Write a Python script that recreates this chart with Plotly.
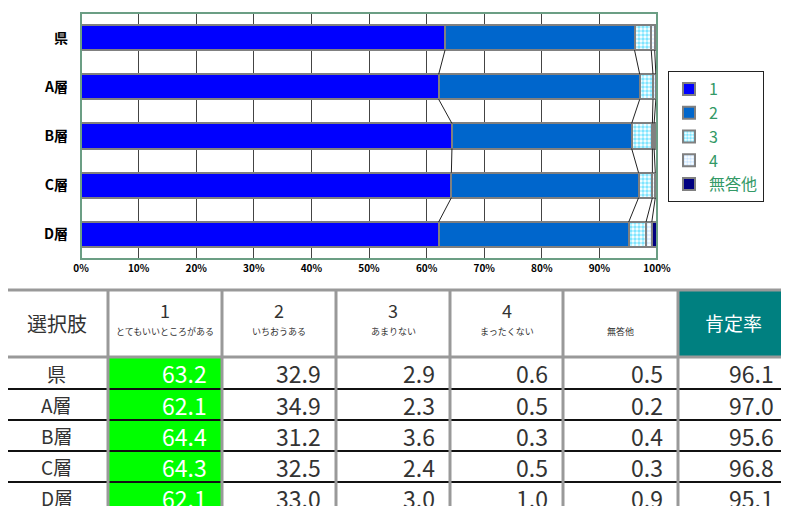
import plotly.graph_objects as go

OFF = 8  # page body margin
W, H = 789 - OFF, 506 - OFF

categories = ["県", "A層", "B層", "C層", "D層"]
series_names = ["1", "2", "3", "4", "無答他"]
s1 = [63.2, 62.1, 64.4, 64.3, 62.1]
s2 = [32.9, 34.9, 31.2, 32.5, 33.0]
s3 = [2.9, 2.3, 3.6, 2.4, 3.0]
s4 = [0.6, 0.5, 0.3, 0.5, 1.0]
s5 = [0.5, 0.2, 0.4, 0.3, 0.9]
positive_rate = [96.1, 97.0, 95.6, 96.8, 95.1]
x_ticks = [0, 10, 20, 30, 40, 50, 60, 70, 80, 90, 100]
x_ticktext = [f"{v}%" for v in x_ticks]

header_nums = ["1", "2", "3", "4", ""]
header_subs = ["とてもいいところがある", "いちおうある", "あまりない", "まったくない", "無答他"]

series = [s1, s2, s3, s4, s5]
colors = ["#0000FF", "#0066CC", "#00CCFF", "#99CCFF", "#000080"]
patterns = [None, None, ".", ".", None]

def px(x):
    return (x - OFF) / W

def py(y):
    return 1 - (y - OFF) / H

fig = go.Figure()
ypos = list(range(len(categories)))
BW = 0.51
for name, vals, col, pat in zip(series_names, series, colors, patterns):
    marker = dict(color=col if pat is None else "white",
                  line=dict(color="#808080", width=2))
    if pat:
        marker["pattern"] = dict(shape=pat, fgcolor=col, bgcolor="white", size=4, solidity=0.6, fillmode="overlay")
    fig.add_trace(go.Bar(x=vals, y=ypos, orientation="h", name=name, width=BW,
                         marker=marker, hoverinfo="skip"))

# connector (series) lines
cum = [[0] * len(categories)]
for vals in series:
    cum.append([a + b for a, b in zip(cum[-1], vals)])
lx, ly = [], []
for k in range(1, 5):
    for i in range(len(categories) - 1):
        lx += [cum[k][i], cum[k][i + 1], None]
        ly += [i + BW / 2, i + 1 - BW / 2, None]
fig.add_trace(go.Scatter(x=lx, y=ly, mode="lines", line=dict(color="#222222", width=1),
                         showlegend=False, hoverinfo="skip"))

x0, x1, yt, yb = 81, 657, 13, 259
fig.update_layout(
    width=W, height=H, margin=dict(l=0, r=0, t=0, b=0, autoexpand=False),
    paper_bgcolor="white", plot_bgcolor="white",
    barmode="stack", bargap=0.49,
    font=dict(family="Noto Sans CJK JP", color="black"),
    xaxis=dict(domain=[px(x0), px(x1)], range=[0, 100], tickvals=x_ticks, ticktext=x_ticktext,
               showgrid=True, gridcolor="#444444", gridwidth=1, zeroline=False, automargin=False,
               tickfont=dict(size=10, family="Noto Sans CJK JP", weight="bold"), ticks="", ticklabelstandoff=2),
    yaxis=dict(domain=[py(yb), py(yt)], range=[4.5, -0.5], tickvals=ypos, ticktext=categories,
               showgrid=False, zeroline=False, ticks="", automargin=False,
               tickfont=dict(size=14, family="Noto Sans CJK JP", weight="bold"), ticklabelstandoff=12),
    legend=dict(x=px(668), y=py(71), xanchor="left", yanchor="top", traceorder="normal",
                bordercolor="#222222", borderwidth=1, bgcolor="white",
                font=dict(size=16, color="#339966", family="Noto Sans CJK JP"),
                itemwidth=30, tracegroupgap=0),
    showlegend=True,
)

shapes = []
# plot frame
shapes.append(dict(type="rect", xref="paper", yref="paper", x0=px(x0), x1=px(x1), y0=py(yb), y1=py(yt),
                   line=dict(color="#6b9e84", width=2), layer="above"))

# ---- table ----
col_x = [5, 108, 222, 336, 450, 563, 678, 795]
row_y = [290, 357, 389, 420, 451, 482, 513]
annotations = []

# fills
shapes.append(dict(type="rect", xref="paper", yref="paper", x0=px(col_x[6]), x1=px(col_x[7]),
                   y0=py(row_y[1]), y1=py(row_y[0]), fillcolor="#008080", line=dict(width=0), layer="below"))
shapes.append(dict(type="rect", xref="paper", yref="paper", x0=px(col_x[1]), x1=px(col_x[2]),
                   y0=py(row_y[6]), y1=py(row_y[1]), fillcolor="#00FF00", line=dict(width=0), layer="below"))

# horizontal lines
shapes.append(dict(type="line", xref="paper", yref="paper", x0=px(col_x[0]), x1=px(col_x[7]),
                   y0=py(row_y[0]), y1=py(row_y[0]), line=dict(color="#999999", width=3)))
shapes.append(dict(type="line", xref="paper", yref="paper", x0=px(col_x[0]), x1=px(col_x[7]),
                   y0=py(row_y[1]), y1=py(row_y[1]), line=dict(color="#999999", width=3)))
for r in row_y[2:6]:
    shapes.append(dict(type="line", xref="paper", yref="paper", x0=px(col_x[0]), x1=px(col_x[7]),
                       y0=py(r), y1=py(r), line=dict(color="#111111", width=2)))
# vertical lines
for c in col_x[:7]:
    shapes.append(dict(type="line", xref="paper", yref="paper", x0=px(c), x1=px(c),
                       y0=py(row_y[6]), y1=py(row_y[0]), line=dict(color="#999999", width=3)))

tfont = "Noto Sans CJK JP"

def ann(x, y, text, size, color="#333333", xanchor="center"):
    annotations.append(dict(x=px(x), y=py(y), xref="paper", yref="paper", text=text, showarrow=False,
                            xanchor=xanchor, yanchor="middle", borderpad=0,
                            font=dict(size=size, color=color, family=tfont)))

hy_mid = (row_y[0] + row_y[1]) / 2
ann((col_x[0] + col_x[1]) / 2, hy_mid, "選択肢", 20)
for j in range(5):
    cx = (col_x[j + 1] + col_x[j + 2]) / 2
    if header_nums[j]:
        ann(cx, 310, header_nums[j], 18)
    ann(cx, 331, header_subs[j], 9)
ann((col_x[6] + 789) / 2, hy_mid - 1, "肯定率", 19, color="white")

table_cols = [s1, s2, s3, s4, s5, positive_rate]
for i, cat in enumerate(categories):
    cy = (row_y[i + 1] + row_y[i + 2]) / 2
    ann((col_x[0] + col_x[1]) / 2, cy, cat, 19)
    for j, colvals in enumerate(table_cols):
        right = col_x[j + 2] if j < 5 else 789
        ann(right - 14, cy, f"{colvals[i]:.1f}", 23,
            color="white" if j == 0 else "#333333", xanchor="right")

fig.update_layout(shapes=shapes, annotations=annotations)
fig.write_html("out.html")
